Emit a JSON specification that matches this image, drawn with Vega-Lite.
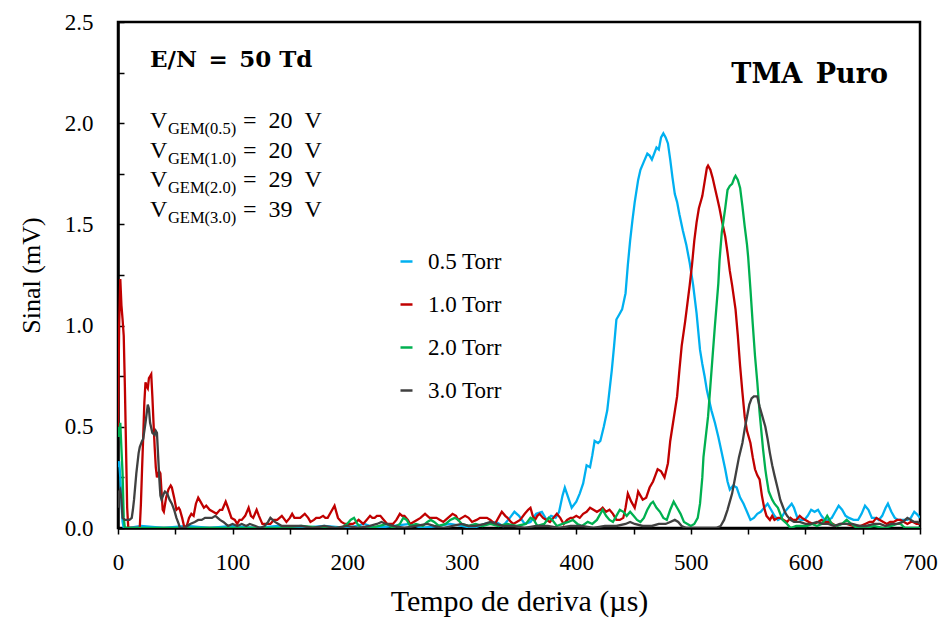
{
  "$schema": "https://vega.github.io/schema/vega-lite/v6.json",
  "width": 802,
  "height": 506,
  "autosize": {"type": "none"},
  "padding": {"left": 118, "top": 22, "right": 20, "bottom": 94},
  "background": "white",
  "config": {
    "font": "Liberation Serif",
    "view": {"stroke": "black", "strokeWidth": 2.5},
    "axis": {"labelFont": "Liberation Serif", "titleFont": "Liberation Serif", "labelColor": "black", "titleColor": "black", "domainColor": "black", "domainWidth": 2.5, "tickColor": "black", "tickWidth": 1.5, "grid": false, "titleFontWeight": "normal"},
    "legend": {"labelFont": "Liberation Serif"}
  },
  "datasets": {
    "blue": [
      {"t":0,"v":0.30},{"t":1,"v":0.33},{"t":2,"v":0.25},{"t":3,"v":0.12},{"t":4,"v":0.03},{"t":5,"v":0.0},{"t":10,"v":0.0},{"t":20,"v":0.01},{"t":40,"v":0.0},{"t":60,"v":0.01},{"t":80,"v":0.0},{"t":100,"v":0.01},{"t":120,"v":0.0},{"t":140,"v":0.01},{"t":160,"v":0.0},{"t":180,"v":0.01},{"t":200,"v":0.0},{"t":215,"v":0.02},{"t":225,"v":0.0},{"t":240,"v":0.01},{"t":255,"v":0.02},{"t":265,"v":0.0},{"t":280,"v":0.01},{"t":290,"v":0.02},{"t":300,"v":0.01},{"t":310,"v":0.0},{"t":320,"v":0.02},{"t":330,"v":0.03},{"t":336,"v":0.01},{"t":342,"v":0.05},{"t":346,"v":0.08},{"t":350,"v":0.06},{"t":355,"v":0.02},{"t":360,"v":0.03},{"t":365,"v":0.07},{"t":370,"v":0.08},{"t":374,"v":0.04},{"t":378,"v":0.06},{"t":382,"v":0.05},{"t":385,"v":0.08},{"t":388,"v":0.16},{"t":390,"v":0.20},{"t":393,"v":0.15},{"t":396,"v":0.10},{"t":400,"v":0.13},{"t":403,"v":0.17},{"t":406,"v":0.22},{"t":409,"v":0.31},{"t":412,"v":0.30},{"t":414,"v":0.36},{"t":416,"v":0.43},{"t":419,"v":0.42},{"t":421,"v":0.43},{"t":424,"v":0.50},{"t":427,"v":0.58},{"t":429,"v":0.68},{"t":431,"v":0.78},{"t":433,"v":0.90},{"t":435,"v":1.03},{"t":438,"v":1.06},{"t":440,"v":1.08},{"t":443,"v":1.16},{"t":445,"v":1.30},{"t":447,"v":1.42},{"t":449,"v":1.52},{"t":451,"v":1.61},{"t":454,"v":1.72},{"t":456,"v":1.77},{"t":459,"v":1.81},{"t":462,"v":1.85},{"t":464,"v":1.84},{"t":466,"v":1.82},{"t":468,"v":1.85},{"t":470,"v":1.88},{"t":472,"v":1.87},{"t":474,"v":1.93},{"t":476,"v":1.95},{"t":478,"v":1.93},{"t":480,"v":1.90},{"t":482,"v":1.82},{"t":484,"v":1.73},{"t":486,"v":1.65},{"t":488,"v":1.61},{"t":490,"v":1.55},{"t":493,"v":1.47},{"t":496,"v":1.40},{"t":499,"v":1.31},{"t":502,"v":1.20},{"t":505,"v":1.06},{"t":508,"v":0.88},{"t":510,"v":0.81},{"t":512,"v":0.75},{"t":514,"v":0.68},{"t":516,"v":0.63},{"t":518,"v":0.58},{"t":521,"v":0.52},{"t":524,"v":0.45},{"t":527,"v":0.37},{"t":530,"v":0.29},{"t":532,"v":0.23},{"t":534,"v":0.19},{"t":537,"v":0.21},{"t":540,"v":0.20},{"t":543,"v":0.15},{"t":546,"v":0.12},{"t":549,"v":0.08},{"t":552,"v":0.04},{"t":555,"v":0.05},{"t":558,"v":0.07},{"t":561,"v":0.08},{"t":564,"v":0.10},{"t":567,"v":0.12},{"t":570,"v":0.09},{"t":573,"v":0.06},{"t":576,"v":0.04},{"t":579,"v":0.05},{"t":582,"v":0.08},{"t":585,"v":0.10},{"t":588,"v":0.12},{"t":590,"v":0.10},{"t":593,"v":0.05},{"t":596,"v":0.04},{"t":599,"v":0.04},{"t":602,"v":0.06},{"t":605,"v":0.09},{"t":608,"v":0.08},{"t":611,"v":0.09},{"t":614,"v":0.06},{"t":617,"v":0.04},{"t":620,"v":0.04},{"t":623,"v":0.05},{"t":626,"v":0.08},{"t":629,"v":0.11},{"t":632,"v":0.09},{"t":635,"v":0.06},{"t":638,"v":0.05},{"t":642,"v":0.04},{"t":646,"v":0.04},{"t":649,"v":0.07},{"t":652,"v":0.11},{"t":655,"v":0.09},{"t":658,"v":0.05},{"t":661,"v":0.05},{"t":664,"v":0.04},{"t":667,"v":0.06},{"t":670,"v":0.10},{"t":672,"v":0.12},{"t":675,"v":0.08},{"t":678,"v":0.05},{"t":681,"v":0.04},{"t":685,"v":0.04},{"t":689,"v":0.04},{"t":692,"v":0.05},{"t":695,"v":0.08},{"t":697,"v":0.07},{"t":700,"v":0.05}
    ],
    "red": [
      {"t":0,"v":0.50},{"t":1,"v":1.0},{"t":2,"v":1.23},{"t":3,"v":1.10},{"t":4,"v":1.03},{"t":5,"v":0.95},{"t":6,"v":0.70},{"t":7,"v":0.40},{"t":8,"v":0.10},{"t":9,"v":0.0},{"t":12,"v":0.0},{"t":16,"v":0.0},{"t":19,"v":0.0},{"t":20,"v":0.12},{"t":21,"v":0.29},{"t":22,"v":0.45},{"t":23,"v":0.62},{"t":24,"v":0.72},{"t":25,"v":0.70},{"t":26,"v":0.69},{"t":27,"v":0.74},{"t":28,"v":0.75},{"t":29,"v":0.76},{"t":30,"v":0.65},{"t":31,"v":0.52},{"t":32,"v":0.40},{"t":33,"v":0.30},{"t":34,"v":0.25},{"t":35,"v":0.27},{"t":36,"v":0.28},{"t":37,"v":0.27},{"t":38,"v":0.18},{"t":39,"v":0.09},{"t":40,"v":0.08},{"t":42,"v":0.15},{"t":44,"v":0.19},{"t":46,"v":0.21},{"t":47,"v":0.20},{"t":49,"v":0.15},{"t":51,"v":0.09},{"t":53,"v":0.10},{"t":54,"v":0.09},{"t":56,"v":0.05},{"t":58,"v":0.0},{"t":60,"v":0.01},{"t":62,"v":0.05},{"t":64,"v":0.07},{"t":66,"v":0.06},{"t":68,"v":0.12},{"t":70,"v":0.15},{"t":72,"v":0.13},{"t":75,"v":0.10},{"t":77,"v":0.11},{"t":80,"v":0.09},{"t":83,"v":0.08},{"t":86,"v":0.07},{"t":89,"v":0.09},{"t":91,"v":0.09},{"t":94,"v":0.13},{"t":96,"v":0.10},{"t":99,"v":0.05},{"t":102,"v":0.04},{"t":104,"v":0.02},{"t":106,"v":0.04},{"t":108,"v":0.04},{"t":111,"v":0.06},{"t":114,"v":0.10},{"t":116,"v":0.06},{"t":118,"v":0.05},{"t":121,"v":0.09},{"t":123,"v":0.06},{"t":126,"v":0.02},{"t":130,"v":0.02},{"t":133,"v":0.02},{"t":136,"v":0.04},{"t":139,"v":0.04},{"t":143,"v":0.06},{"t":147,"v":0.03},{"t":150,"v":0.05},{"t":152,"v":0.07},{"t":154,"v":0.05},{"t":156,"v":0.05},{"t":159,"v":0.05},{"t":163,"v":0.07},{"t":166,"v":0.05},{"t":168,"v":0.03},{"t":171,"v":0.04},{"t":173,"v":0.05},{"t":176,"v":0.05},{"t":179,"v":0.06},{"t":181,"v":0.05},{"t":183,"v":0.05},{"t":186,"v":0.08},{"t":189,"v":0.11},{"t":191,"v":0.07},{"t":192,"v":0.05},{"t":195,"v":0.03},{"t":198,"v":0.02},{"t":201,"v":0.02},{"t":205,"v":0.02},{"t":208,"v":0.03},{"t":210,"v":0.04},{"t":214,"v":0.02},{"t":217,"v":0.04},{"t":220,"v":0.06},{"t":222,"v":0.05},{"t":224,"v":0.05},{"t":226,"v":0.06},{"t":229,"v":0.06},{"t":232,"v":0.04},{"t":235,"v":0.02},{"t":240,"v":0.02},{"t":243,"v":0.04},{"t":246,"v":0.07},{"t":248,"v":0.06},{"t":250,"v":0.06},{"t":253,"v":0.04},{"t":255,"v":0.02},{"t":258,"v":0.03},{"t":261,"v":0.04},{"t":264,"v":0.05},{"t":268,"v":0.07},{"t":270,"v":0.06},{"t":272,"v":0.05},{"t":275,"v":0.05},{"t":278,"v":0.05},{"t":281,"v":0.04},{"t":284,"v":0.03},{"t":288,"v":0.05},{"t":292,"v":0.07},{"t":295,"v":0.06},{"t":297,"v":0.04},{"t":300,"v":0.05},{"t":303,"v":0.06},{"t":306,"v":0.05},{"t":309,"v":0.03},{"t":313,"v":0.04},{"t":316,"v":0.05},{"t":319,"v":0.05},{"t":322,"v":0.05},{"t":325,"v":0.04},{"t":329,"v":0.02},{"t":332,"v":0.05},{"t":335,"v":0.08},{"t":338,"v":0.06},{"t":340,"v":0.05},{"t":343,"v":0.03},{"t":345,"v":0.02},{"t":348,"v":0.03},{"t":351,"v":0.04},{"t":355,"v":0.07},{"t":358,"v":0.09},{"t":360,"v":0.10},{"t":362,"v":0.06},{"t":364,"v":0.04},{"t":366,"v":0.06},{"t":368,"v":0.07},{"t":371,"v":0.05},{"t":374,"v":0.04},{"t":377,"v":0.03},{"t":380,"v":0.05},{"t":383,"v":0.07},{"t":386,"v":0.05},{"t":389,"v":0.02},{"t":392,"v":0.04},{"t":395,"v":0.05},{"t":397,"v":0.05},{"t":400,"v":0.06},{"t":403,"v":0.05},{"t":406,"v":0.07},{"t":409,"v":0.08},{"t":412,"v":0.10},{"t":415,"v":0.09},{"t":418,"v":0.08},{"t":421,"v":0.09},{"t":423,"v":0.10},{"t":426,"v":0.08},{"t":429,"v":0.09},{"t":432,"v":0.07},{"t":435,"v":0.04},{"t":438,"v":0.04},{"t":441,"v":0.05},{"t":443,"v":0.10},{"t":445,"v":0.17},{"t":448,"v":0.13},{"t":451,"v":0.10},{"t":453,"v":0.15},{"t":454,"v":0.18},{"t":456,"v":0.16},{"t":458,"v":0.14},{"t":461,"v":0.15},{"t":464,"v":0.20},{"t":467,"v":0.23},{"t":469,"v":0.26},{"t":471,"v":0.29},{"t":474,"v":0.28},{"t":477,"v":0.25},{"t":480,"v":0.32},{"t":482,"v":0.43},{"t":485,"v":0.54},{"t":488,"v":0.65},{"t":490,"v":0.78},{"t":492,"v":0.90},{"t":495,"v":1.02},{"t":497,"v":1.11},{"t":499,"v":1.20},{"t":501,"v":1.30},{"t":503,"v":1.42},{"t":505,"v":1.51},{"t":507,"v":1.58},{"t":510,"v":1.64},{"t":512,"v":1.71},{"t":514,"v":1.78},{"t":515,"v":1.79},{"t":517,"v":1.77},{"t":519,"v":1.73},{"t":521,"v":1.68},{"t":523,"v":1.63},{"t":525,"v":1.58},{"t":527,"v":1.52},{"t":530,"v":1.44},{"t":532,"v":1.36},{"t":534,"v":1.27},{"t":536,"v":1.20},{"t":539,"v":1.08},{"t":541,"v":0.95},{"t":543,"v":0.80},{"t":545,"v":0.67},{"t":547,"v":0.55},{"t":549,"v":0.48},{"t":552,"v":0.42},{"t":554,"v":0.35},{"t":556,"v":0.29},{"t":558,"v":0.26},{"t":560,"v":0.24},{"t":562,"v":0.16},{"t":564,"v":0.10},{"t":566,"v":0.06},{"t":569,"v":0.04},{"t":571,"v":0.06},{"t":573,"v":0.04},{"t":576,"v":0.05},{"t":578,"v":0.05},{"t":581,"v":0.04},{"t":584,"v":0.03},{"t":587,"v":0.05},{"t":589,"v":0.04},{"t":592,"v":0.04},{"t":595,"v":0.06},{"t":597,"v":0.05},{"t":600,"v":0.04},{"t":603,"v":0.03},{"t":607,"v":0.02},{"t":611,"v":0.03},{"t":614,"v":0.04},{"t":617,"v":0.03},{"t":621,"v":0.03},{"t":624,"v":0.02},{"t":627,"v":0.01},{"t":631,"v":0.02},{"t":636,"v":0.02},{"t":642,"v":0.01},{"t":648,"v":0.01},{"t":652,"v":0.02},{"t":656,"v":0.03},{"t":659,"v":0.03},{"t":662,"v":0.05},{"t":665,"v":0.04},{"t":668,"v":0.03},{"t":671,"v":0.02},{"t":674,"v":0.03},{"t":677,"v":0.03},{"t":680,"v":0.04},{"t":683,"v":0.04},{"t":686,"v":0.03},{"t":689,"v":0.02},{"t":692,"v":0.03},{"t":694,"v":0.03},{"t":697,"v":0.02},{"t":700,"v":0.02}
    ],
    "green": [
      {"t":0,"v":0.50},{"t":1,"v":0.45},{"t":2,"v":0.52},{"t":3,"v":0.39},{"t":4,"v":0.27},{"t":5,"v":0.05},{"t":6,"v":0.0},{"t":20,"v":0.0},{"t":40,"v":0.0},{"t":60,"v":0.0},{"t":80,"v":0.0},{"t":100,"v":0.0},{"t":120,"v":0.0},{"t":140,"v":0.0},{"t":160,"v":0.01},{"t":180,"v":0.0},{"t":195,"v":0.0},{"t":200,"v":0.02},{"t":203,"v":0.04},{"t":206,"v":0.05},{"t":209,"v":0.02},{"t":212,"v":0.0},{"t":220,"v":0.0},{"t":228,"v":0.01},{"t":235,"v":0.02},{"t":240,"v":0.0},{"t":246,"v":0.02},{"t":249,"v":0.05},{"t":252,"v":0.04},{"t":255,"v":0.01},{"t":260,"v":0.02},{"t":266,"v":0.01},{"t":270,"v":0.03},{"t":273,"v":0.04},{"t":276,"v":0.03},{"t":280,"v":0.01},{"t":286,"v":0.02},{"t":290,"v":0.04},{"t":294,"v":0.05},{"t":297,"v":0.04},{"t":300,"v":0.02},{"t":306,"v":0.01},{"t":312,"v":0.02},{"t":318,"v":0.01},{"t":325,"v":0.02},{"t":332,"v":0.01},{"t":340,"v":0.02},{"t":348,"v":0.01},{"t":356,"v":0.02},{"t":360,"v":0.05},{"t":363,"v":0.04},{"t":366,"v":0.01},{"t":372,"v":0.02},{"t":376,"v":0.05},{"t":379,"v":0.04},{"t":383,"v":0.01},{"t":388,"v":0.02},{"t":393,"v":0.03},{"t":397,"v":0.04},{"t":401,"v":0.02},{"t":405,"v":0.01},{"t":410,"v":0.03},{"t":414,"v":0.02},{"t":418,"v":0.04},{"t":421,"v":0.07},{"t":423,"v":0.09},{"t":426,"v":0.06},{"t":429,"v":0.04},{"t":432,"v":0.03},{"t":435,"v":0.06},{"t":438,"v":0.09},{"t":441,"v":0.08},{"t":444,"v":0.06},{"t":447,"v":0.08},{"t":450,"v":0.06},{"t":453,"v":0.04},{"t":456,"v":0.03},{"t":459,"v":0.05},{"t":462,"v":0.09},{"t":465,"v":0.12},{"t":467,"v":0.13},{"t":470,"v":0.10},{"t":473,"v":0.08},{"t":476,"v":0.05},{"t":479,"v":0.04},{"t":482,"v":0.09},{"t":485,"v":0.13},{"t":488,"v":0.10},{"t":491,"v":0.07},{"t":494,"v":0.03},{"t":497,"v":0.02},{"t":500,"v":0.01},{"t":503,"v":0.02},{"t":506,"v":0.05},{"t":508,"v":0.12},{"t":510,"v":0.25},{"t":511,"v":0.35},{"t":513,"v":0.45},{"t":515,"v":0.55},{"t":517,"v":0.70},{"t":519,"v":0.85},{"t":521,"v":1.00},{"t":524,"v":1.21},{"t":525,"v":1.32},{"t":527,"v":1.46},{"t":530,"v":1.58},{"t":532,"v":1.67},{"t":534,"v":1.69},{"t":536,"v":1.70},{"t":538,"v":1.73},{"t":539,"v":1.74},{"t":541,"v":1.72},{"t":543,"v":1.68},{"t":545,"v":1.59},{"t":547,"v":1.49},{"t":549,"v":1.40},{"t":550,"v":1.34},{"t":552,"v":1.18},{"t":554,"v":1.01},{"t":556,"v":0.85},{"t":558,"v":0.72},{"t":560,"v":0.57},{"t":562,"v":0.45},{"t":563,"v":0.39},{"t":565,"v":0.29},{"t":566,"v":0.25},{"t":568,"v":0.18},{"t":571,"v":0.14},{"t":573,"v":0.12},{"t":576,"v":0.10},{"t":578,"v":0.07},{"t":580,"v":0.04},{"t":584,"v":0.02},{"t":587,"v":0.0},{"t":592,"v":0.01},{"t":597,"v":0.01},{"t":601,"v":0.01},{"t":606,"v":0.02},{"t":610,"v":0.01},{"t":614,"v":0.02},{"t":617,"v":0.04},{"t":619,"v":0.06},{"t":621,"v":0.04},{"t":623,"v":0.02},{"t":627,"v":0.01},{"t":632,"v":0.02},{"t":636,"v":0.04},{"t":638,"v":0.03},{"t":640,"v":0.02},{"t":645,"v":0.0},{"t":652,"v":0.0},{"t":660,"v":0.01},{"t":668,"v":0.0},{"t":675,"v":0.01},{"t":680,"v":0.02},{"t":683,"v":0.02},{"t":687,"v":0.0},{"t":694,"v":0.0},{"t":700,"v":0.0}
    ],
    "black": [
      {"t":0,"v":0.10},{"t":1,"v":0.18},{"t":2,"v":0.19},{"t":3,"v":0.14},{"t":4,"v":0.05},{"t":6,"v":0.04},{"t":8,"v":0.04},{"t":10,"v":0.04},{"t":12,"v":0.05},{"t":13,"v":0.09},{"t":14,"v":0.14},{"t":16,"v":0.27},{"t":18,"v":0.37},{"t":19,"v":0.40},{"t":21,"v":0.43},{"t":22,"v":0.44},{"t":24,"v":0.52},{"t":26,"v":0.61},{"t":27,"v":0.59},{"t":28,"v":0.52},{"t":30,"v":0.47},{"t":32,"v":0.46},{"t":33,"v":0.48},{"t":34,"v":0.47},{"t":35,"v":0.36},{"t":36,"v":0.25},{"t":37,"v":0.16},{"t":38,"v":0.14},{"t":40,"v":0.17},{"t":41,"v":0.18},{"t":43,"v":0.17},{"t":45,"v":0.14},{"t":47,"v":0.12},{"t":49,"v":0.09},{"t":51,"v":0.05},{"t":53,"v":0.02},{"t":54,"v":0.0},{"t":58,"v":0.0},{"t":63,"v":0.02},{"t":67,"v":0.03},{"t":70,"v":0.04},{"t":73,"v":0.04},{"t":76,"v":0.05},{"t":79,"v":0.05},{"t":82,"v":0.05},{"t":85,"v":0.06},{"t":87,"v":0.05},{"t":89,"v":0.04},{"t":92,"v":0.03},{"t":96,"v":0.01},{"t":100,"v":0.02},{"t":104,"v":0.01},{"t":108,"v":0.02},{"t":112,"v":0.01},{"t":115,"v":0.02},{"t":120,"v":0.01},{"t":124,"v":0.0},{"t":128,"v":0.01},{"t":131,"v":0.03},{"t":133,"v":0.05},{"t":135,"v":0.04},{"t":137,"v":0.03},{"t":140,"v":0.02},{"t":143,"v":0.01},{"t":150,"v":0.01},{"t":160,"v":0.01},{"t":170,"v":0.0},{"t":180,"v":0.01},{"t":190,"v":0.0},{"t":200,"v":0.01},{"t":210,"v":0.0},{"t":220,"v":0.01},{"t":226,"v":0.02},{"t":230,"v":0.03},{"t":234,"v":0.02},{"t":240,"v":0.01},{"t":250,"v":0.0},{"t":260,"v":0.01},{"t":270,"v":0.02},{"t":276,"v":0.01},{"t":284,"v":0.0},{"t":292,"v":0.01},{"t":300,"v":0.02},{"t":306,"v":0.01},{"t":312,"v":0.01},{"t":320,"v":0.02},{"t":325,"v":0.03},{"t":330,"v":0.02},{"t":336,"v":0.01},{"t":345,"v":0.01},{"t":355,"v":0.0},{"t":365,"v":0.01},{"t":375,"v":0.01},{"t":385,"v":0.0},{"t":395,"v":0.01},{"t":405,"v":0.01},{"t":415,"v":0.0},{"t":425,"v":0.01},{"t":435,"v":0.01},{"t":443,"v":0.02},{"t":447,"v":0.03},{"t":451,"v":0.02},{"t":458,"v":0.01},{"t":466,"v":0.01},{"t":472,"v":0.02},{"t":478,"v":0.02},{"t":482,"v":0.03},{"t":486,"v":0.04},{"t":489,"v":0.03},{"t":492,"v":0.01},{"t":496,"v":0.0},{"t":505,"v":0.0},{"t":515,"v":0.0},{"t":522,"v":0.0},{"t":526,"v":0.01},{"t":529,"v":0.04},{"t":532,"v":0.09},{"t":534,"v":0.13},{"t":536,"v":0.17},{"t":538,"v":0.23},{"t":540,"v":0.29},{"t":542,"v":0.35},{"t":545,"v":0.42},{"t":547,"v":0.49},{"t":549,"v":0.55},{"t":551,"v":0.61},{"t":553,"v":0.64},{"t":555,"v":0.65},{"t":557,"v":0.65},{"t":558,"v":0.65},{"t":560,"v":0.60},{"t":562,"v":0.56},{"t":565,"v":0.50},{"t":567,"v":0.44},{"t":569,"v":0.37},{"t":571,"v":0.31},{"t":573,"v":0.26},{"t":576,"v":0.19},{"t":578,"v":0.14},{"t":580,"v":0.11},{"t":582,"v":0.08},{"t":584,"v":0.06},{"t":587,"v":0.04},{"t":590,"v":0.03},{"t":595,"v":0.03},{"t":600,"v":0.02},{"t":605,"v":0.02},{"t":610,"v":0.03},{"t":615,"v":0.02},{"t":620,"v":0.02},{"t":625,"v":0.01},{"t":630,"v":0.02},{"t":635,"v":0.02},{"t":641,"v":0.02},{"t":647,"v":0.01},{"t":653,"v":0.01},{"t":660,"v":0.02},{"t":665,"v":0.02},{"t":670,"v":0.01},{"t":675,"v":0.02},{"t":680,"v":0.02},{"t":685,"v":0.03},{"t":689,"v":0.05},{"t":692,"v":0.04},{"t":695,"v":0.03},{"t":698,"v":0.03},{"t":700,"v":0.02}
    ]
  },
  "layer": [
    {
      "data": {"name": "blue"},
      "mark": {"type": "line", "strokeWidth": 2.3, "clip": true},
      "encoding": {
        "x": {"field": "t", "type": "quantitative", "scale": {"domain": [0, 700], "nice": false},
          "axis": {"title": "Tempo de deriva (µs)", "values": [0,50,100,150,200,250,300,350,400,450,500,550,600,650,700], "labelExpr": "datum.value % 100 == 0 ? format(datum.value, 'd') : ''", "labelFontSize": 23, "titleFontSize": 30, "tickSize": 6, "labelPadding": 17, "titlePadding": 12, "labelFlush": false}},
        "y": {"field": "v", "type": "quantitative", "scale": {"domain": [0, 2.5], "nice": false},
          "axis": {"title": "Sinal  (mV)", "values": [0,0.25,0.5,0.75,1,1.25,1.5,1.75,2,2.25,2.5], "labelExpr": "abs(datum.value*2 - round(datum.value*2)) < 0.01 ? format(datum.value, '.1f') : ''", "labelFontSize": 23, "titleFontSize": 26, "tickSize": -6, "labelPadding": 31, "titlePadding": 20, "labelFlush": false}},
        "color": {"datum": "0.5 Torr", "type": "nominal",
          "scale": {"domain": ["0.5 Torr", "1.0 Torr", "2.0 Torr", "3.0 Torr"], "range": ["#00B0F0", "#C00000", "#00B050", "#404040"]},
          "legend": {"title": null, "orient": "none", "legendX": 277, "legendY": 228, "labelFontSize": 23, "symbolType": "stroke", "symbolSize": 144, "symbolStrokeWidth": 2.5, "rowPadding": 19, "labelOffset": 10}}
      }
    },
    {
      "data": {"name": "red"},
      "mark": {"type": "line", "strokeWidth": 2.3, "clip": true},
      "encoding": {"x": {"field": "t", "type": "quantitative"}, "y": {"field": "v", "type": "quantitative"}, "color": {"datum": "1.0 Torr", "type": "nominal"}}
    },
    {
      "data": {"name": "green"},
      "mark": {"type": "line", "strokeWidth": 2.3, "clip": true},
      "encoding": {"x": {"field": "t", "type": "quantitative"}, "y": {"field": "v", "type": "quantitative"}, "color": {"datum": "2.0 Torr", "type": "nominal"}}
    },
    {
      "data": {"name": "black"},
      "mark": {"type": "line", "strokeWidth": 2.3, "clip": true},
      "encoding": {"x": {"field": "t", "type": "quantitative"}, "y": {"field": "v", "type": "quantitative"}, "color": {"datum": "3.0 Torr", "type": "nominal"}}
    },
    {
      "data": {"values": [{}]},
      "mark": {"type": "text", "text": "E/N\u2002=\u200250 Td", "font": "DejaVu Serif", "fontWeight": "bold", "fontSize": 23, "align": "left", "baseline": "alphabetic", "color": "black"},
      "encoding": {"x": {"datum": 27.9, "type": "quantitative"}, "y": {"datum": 2.278, "type": "quantitative"}}
    },
    {
      "data": {"values": [{}]},
      "mark": {"type": "text", "text": "TMA\u2002Puro", "font": "DejaVu Serif", "fontWeight": "bold", "fontSize": 27, "align": "right", "baseline": "alphabetic", "color": "black"},
      "encoding": {"x": {"datum": 672, "type": "quantitative"}, "y": {"datum": 2.2, "type": "quantitative"}}
    },
    {
      "data": {"values": [{}]},
      "mark": {"type": "text", "text": ["V", "V", "V", "V"], "lineHeight": 29.6, "font": "Liberation Serif", "fontSize": 24, "align": "left", "baseline": "alphabetic", "color": "black"},
      "encoding": {"x": {"datum": 27.9, "type": "quantitative"}, "y": {"datum": 1.976, "type": "quantitative"}}
    },
    {
      "data": {"values": [{}]},
      "mark": {"type": "text", "text": ["GEM(0.5)", "GEM(1.0)", "GEM(2.0)", "GEM(3.0)"], "lineHeight": 29.6, "dy": 6, "font": "Liberation Serif", "fontSize": 16.5, "align": "left", "baseline": "alphabetic", "color": "black"},
      "encoding": {"x": {"datum": 43.6, "type": "quantitative"}, "y": {"datum": 1.976, "type": "quantitative"}}
    },
    {
      "data": {"values": [{}]},
      "mark": {"type": "text", "text": ["=\u200220\u2002V", "=\u200220\u2002V", "=\u200229\u2002V", "=\u200239\u2002V"], "lineHeight": 29.6, "font": "Liberation Serif", "fontSize": 24, "align": "left", "baseline": "alphabetic", "color": "black"},
      "encoding": {"x": {"datum": 109.1, "type": "quantitative"}, "y": {"datum": 1.976, "type": "quantitative"}}
    }
  ]
}
